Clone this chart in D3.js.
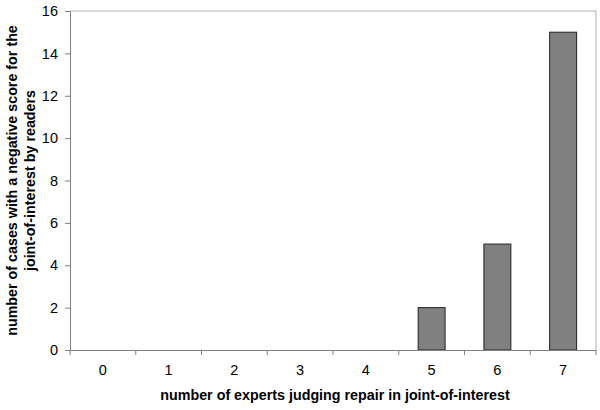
<!DOCTYPE html>
<html><head><meta charset="utf-8">
<script src="https://cdn.jsdelivr.net/npm/d3@7"></script>
<style>body{margin:0;background:#fff;}svg{display:block;font-family:Arial,"Liberation Sans",sans-serif;}</style>
</head><body>
<svg id="c" width="600" height="410"></svg>
<script>
const categories = ["0","1","2","3","4","5","6","7"];
const values = [0,0,0,0,0,2,5,15];
const yTicks = [0,2,4,6,8,10,12,14,16];
const xTitle = "number of experts judging repair in joint-of-interest";
const yTitle = ["number of cases with a negative score for the","joint-of-interest by readers"];

const svg = d3.select("#c");
const L=70, R=596, T=11, B=350;
const x = d3.scaleBand().domain(categories).range([L,R]).paddingInner(0).paddingOuter(0);
const y = d3.scaleLinear().domain([0,16]).range([B,T]);

// plot border (top, right)
svg.append("path").attr("d",`M${L},${T}H${R}V${B}`).attr("fill","none").attr("stroke","#b0b0b0").attr("stroke-width",1);

// bars
const bw = x.bandwidth()*0.41;
svg.selectAll("rect.bar").data(categories.map((c,i)=>({c,v:values[i]})).filter(d=>d.v>0))
 .enter().append("rect")
 .attr("x",d=>x(d.c)+x.bandwidth()/2-bw/2)
 .attr("y",d=>y(d.v))
 .attr("width",bw).attr("height",d=>B-y(d.v))
 .attr("fill","#808080").attr("stroke","#222").attr("stroke-width",1);

// y axis
const ya = svg.append("g").attr("transform",`translate(${L},0)`)
 .call(d3.axisLeft(y).tickValues(yTicks).tickSize(5).tickPadding(7).tickFormat(d3.format("d")));
ya.select(".domain").attr("stroke","#808080");
ya.selectAll(".tick line").attr("stroke","#808080");
ya.selectAll("text").attr("font-size",14.5).attr("fill","#000").attr("font-family","Arial, 'Liberation Sans', sans-serif");

// x axis
const xa = svg.append("g").attr("transform",`translate(0,${B})`)
 .call(d3.axisBottom(x).tickSize(0).tickPadding(15));
xa.select(".domain").attr("stroke","#808080");
xa.selectAll("text").attr("font-size",14.5).attr("fill","#000").attr("font-family","Arial, 'Liberation Sans', sans-serif");
// tick marks at category boundaries
const bounds = categories.map(c=>x(c)).concat([R]);
svg.append("g").selectAll("line").data(bounds).enter().append("line")
 .attr("x1",d=>d).attr("x2",d=>d).attr("y1",B).attr("y2",B+5)
 .attr("stroke","#808080");

// titles
svg.append("text").attr("x",335).attr("y",400).attr("text-anchor","middle")
 .attr("font-size",14.3).attr("font-weight","bold").text(xTitle);
const yt = svg.append("text").attr("transform",`translate(0,${(T+B)/2}) rotate(-90)`)
 .attr("text-anchor","middle").attr("font-size",14.3).attr("font-weight","bold");
yt.append("tspan").attr("x",0).attr("y",17).text(yTitle[0]);
yt.append("tspan").attr("x",0).attr("y",35).text(yTitle[1]);
</script>
</body></html>
